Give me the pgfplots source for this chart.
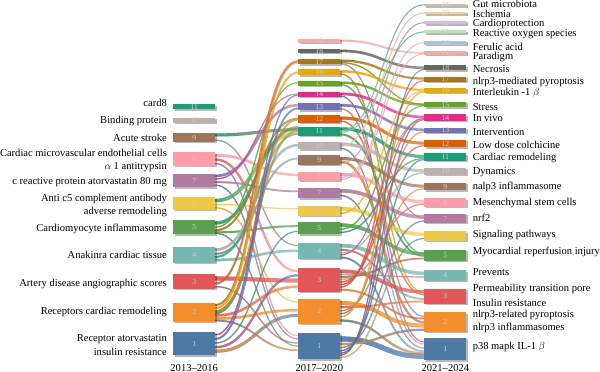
\documentclass[border=0pt]{standalone}
\usepackage{pgfplots}
\pgfplotsset{compat=1.18}
\usepackage{fontspec}
\setmainfont{Liberation Serif}
\usetikzlibrary{fadings}

\definecolor{t1}{HTML}{4E79A7}
\definecolor{t2}{HTML}{F28E2B}
\definecolor{t3}{HTML}{E15759}
\definecolor{t4}{HTML}{76B7B2}
\definecolor{t5}{HTML}{59A14F}
\definecolor{t6}{HTML}{EDC948}
\definecolor{t7}{HTML}{B07AA1}
\definecolor{t8}{HTML}{FF9DA7}
\definecolor{t9}{HTML}{9C755F}
\definecolor{t10}{HTML}{BAB0AC}
\definecolor{t11}{HTML}{1B9E77}
\definecolor{t12}{HTML}{D95F02}
\definecolor{t13}{HTML}{7570B3}
\definecolor{t14}{HTML}{E7298A}
\definecolor{t15}{HTML}{66A61E}
\definecolor{t16}{HTML}{E6AB02}
\definecolor{t17}{HTML}{A6761D}
\definecolor{t18}{HTML}{666666}
\definecolor{t19}{HTML}{F7AAA5}
\definecolor{t20}{HTML}{A9C4E0}
\definecolor{t21}{HTML}{BEE3B5}
\definecolor{t22}{HTML}{D3BCDD}
\definecolor{t23}{HTML}{FCCF90}
\definecolor{t24}{HTML}{C8BFA9}

\tikzset{
  numlab/.style={font=\fontsize{7.5}{8}\selectfont, text=white!80!black, inner sep=0pt},
  lab/.style={font=\fontsize{10.3}{12.8}\selectfont, inner sep=0pt},
}

\makeatletter
\newif\ifsk@first
\def\sk@point#1{%
  \pgf@process{#1}%
  \ifsk@first
    \edef\sk@tmp{\noexpand\pgfpathmoveto{\noexpand\pgfqpoint{\the\pgf@x}{\the\pgf@y}}}\sk@tmp
    \xdef\sk@x{\the\pgf@x}\xdef\sk@y{\the\pgf@y}%
    \global\sk@firstfalse
  \else
    \pgf@xb=\pgf@x \pgf@yb=\pgf@y
    \pgf@xa=\sk@x\relax \pgf@ya=\sk@y\relax
    \pgf@xc=0.5\pgf@xa \advance\pgf@xc by 0.5\pgf@xb
    \edef\sk@tmp{\noexpand\pgfpathcurveto{\noexpand\pgfqpoint{\the\pgf@xc}{\the\pgf@ya}}{\noexpand\pgfqpoint{\the\pgf@xc}{\the\pgf@yb}}{\noexpand\pgfqpoint{\the\pgf@xb}{\the\pgf@yb}}}\sk@tmp
    \xdef\sk@x{\the\pgf@xb}\xdef\sk@y{\the\pgf@yb}%
  \fi}
\pgfdeclareplothandler{\pgfplothandlersankey}{}{start=\global\sk@firsttrue, point macro=\sk@point, jump=\global\sk@firsttrue}
\tikzset{sankey/.code={\let\tikz@plot@handler=\pgfplothandlersankey}}
\makeatother

% flow: x0 y0 x1 y1 width colour0 colour1
\newcommand{\fl}[7]{%
  \addplot[sankey, draw=#6, line width=#5pt, draw opacity=0.68, forget plot] coordinates {(#1,#2) (#3,#4)};
  \addplot[sankey, draw=#7, line width=#5pt, draw opacity=0.78, path fading=east, forget plot] coordinates {(#1,#2) (#3,#4)};
}
% box: x0 x1 ytop ybot colour number
\newcommand{\bx}[6]{%
  \pgfmathsetmacro\xa{#1+1.3}\pgfmathsetmacro\xb{#2+1.3}%
  \pgfmathsetmacro\ya{#3+1.3}\pgfmathsetmacro\yb{#4+1.3}%
  \pgfmathsetmacro\xc{(#1+#2)/2}\pgfmathsetmacro\yc{(#3+#4)/2}%
  \edef\tmp{\noexpand\addplot[fill=black, fill opacity=0.28, draw=none, forget plot] coordinates {(\xa,\ya) (\xb,\ya) (\xb,\yb) (\xa,\yb)};}\tmp
  \addplot[fill=#5, draw=none, forget plot] coordinates {(#1,#3) (#2,#3) (#2,#4) (#1,#4)};
  \edef\tmp{\noexpand\node[numlab] at (axis cs:\xc,\yc) {#6};}\tmp
}

\begin{document}
\begin{tikzpicture}
\begin{axis}[
  width=600pt, height=373pt, scale only axis,
  xmin=0, xmax=600, ymin=0, ymax=373, y dir=reverse,
  hide axis, clip=false,
]
% ---- flows left -> middle
\fl{217}{135}{298}{130}{3}{t9}{t11}
\fl{217}{140}{298}{243}{1.2}{t9}{t4}
\fl{217}{155}{298}{174}{2.5}{t8}{t8}
\fl{217}{159}{298}{268}{2.2}{t8}{t3}
\fl{217}{163}{298}{331}{1.2}{t8}{t1}
\fl{217}{175}{298}{106}{2.5}{t7}{t13}
\fl{217}{178}{298}{95}{1.2}{t7}{t14}
\fl{217}{181}{298}{190}{1.8}{t7}{t7}
\fl{217}{184}{298}{334}{1.2}{t7}{t1}
\fl{217}{199}{298}{133}{3.5}{t6}{t11}
\fl{217}{203}{298}{207}{1.2}{t6}{t6}
\fl{217}{206}{298}{298}{1.2}{t6}{t2}
\fl{217}{221}{298}{128}{3}{t5}{t11}
\fl{217}{225}{298}{84}{1.2}{t5}{t15}
\fl{217}{228}{298}{119}{1.8}{t5}{t12}
\fl{217}{230}{298}{224}{2}{t5}{t5}
\fl{217}{231}{298}{341}{1.2}{t5}{t1}
\fl{217}{247}{298}{145}{2.5}{t4}{t10}
\fl{217}{251}{298}{158}{1.8}{t4}{t9}
\fl{217}{254}{298}{134}{1.8}{t4}{t11}
\fl{217}{257}{298}{248}{2.5}{t4}{t4}
\fl{217}{275}{298}{277}{4}{t3}{t3}
\fl{217}{280}{298}{63}{1.8}{t3}{t17}
\fl{217}{283}{298}{338}{1.2}{t3}{t1}
\fl{217}{301}{298}{64}{1.8}{t2}{t17}
\fl{217}{304}{298}{74}{1.8}{t2}{t16}
\fl{217}{307}{298}{120}{1.8}{t2}{t12}
\fl{217}{309}{298}{131}{1.8}{t2}{t11}
\fl{217}{311}{298}{283}{2.5}{t2}{t3}
\fl{217}{314}{298}{306}{2.5}{t2}{t2}
\fl{217}{316}{298}{345}{1.8}{t2}{t1}
\fl{217}{330}{298}{96}{1.2}{t1}{t14}
\fl{217}{334}{298}{109}{1.8}{t1}{t13}
\fl{217}{338}{298}{229}{1.2}{t1}{t5}
\fl{217}{342}{298}{272}{2.2}{t1}{t3}
\fl{217}{346}{298}{311}{3}{t1}{t2}
% ---- flows middle -> right
\fl{339}{43}{421}{55}{1.8}{t19}{t19}
\fl{339}{53}{421}{69.5}{2.5}{t18}{t18}
\fl{339}{62.5}{421}{80}{2.2}{t17}{t17}
\fl{339}{64.5}{421}{105}{1.2}{t17}{t15}
\fl{339}{65.5}{421}{216}{1}{t17}{t7}
\fl{339}{73}{421}{91}{2.2}{t16}{t16}
\fl{339}{75.5}{421}{289}{1.2}{t16}{t3}
\fl{339}{84}{421}{105.5}{2.2}{t15}{t15}
\fl{339}{86}{421}{251}{1.2}{t15}{t5}
\fl{339}{95}{421}{117.5}{2.5}{t14}{t14}
\fl{339}{97}{421}{337}{1}{t14}{t1}
\fl{339}{106}{421}{130}{2.5}{t13}{t13}
\fl{339}{109.5}{421}{312}{1.2}{t13}{t2}
\fl{339}{118.5}{421}{143}{3}{t12}{t12}
\fl{339}{121.5}{421}{291}{1.2}{t12}{t3}
\fl{339}{129}{421}{156}{3}{t11}{t11}
\fl{339}{131}{421}{8}{1}{t11}{t24}
\fl{339}{132.5}{421}{34.5}{1}{t11}{t21}
\fl{339}{134.5}{421}{253}{1.8}{t11}{t5}
\fl{339}{144}{421}{170}{3}{t10}{t10}
\fl{339}{146}{421}{16}{1}{t10}{t23}
\fl{339}{148}{421}{339}{1.2}{t10}{t1}
\fl{339}{158}{421}{185}{3}{t9}{t9}
\fl{339}{161}{421}{318}{2.2}{t9}{t2}
\fl{339}{163}{421}{25.5}{1}{t9}{t22}
\fl{339}{173.5}{421}{200}{3}{t8}{t8}
\fl{339}{176.5}{421}{45}{1}{t8}{t20}
\fl{339}{178.5}{421}{56}{1}{t8}{t19}
\fl{339}{189.5}{421}{215}{3.5}{t7}{t7}
\fl{339}{194}{421}{343}{1.2}{t7}{t1}
\fl{339}{207}{421}{232}{3.5}{t6}{t6}
\fl{339}{211.5}{421}{92}{1.2}{t6}{t16}
\fl{339}{223}{421}{251}{3.5}{t5}{t5}
\fl{339}{227}{421}{106.5}{1.2}{t5}{t15}
\fl{339}{230}{421}{158}{1.2}{t5}{t11}
\fl{339}{243}{421}{270}{3.5}{t4}{t4}
\fl{339}{247}{421}{295}{1.8}{t4}{t3}
\fl{339}{250}{421}{172}{1.2}{t4}{t10}
\fl{339}{252}{421}{119}{1}{t4}{t14}
\fl{339}{254.5}{421}{346}{1.8}{t4}{t1}
\fl{339}{268}{421}{288}{3.5}{t3}{t3}
\fl{339}{271}{421}{273.5}{1.2}{t3}{t4}
\fl{339}{273.5}{421}{255.5}{1.8}{t3}{t5}
\fl{339}{276}{421}{202.5}{1.2}{t3}{t8}
\fl{339}{278.5}{421}{145.5}{1.2}{t3}{t12}
\fl{339}{281}{421}{119}{1.2}{t3}{t14}
\fl{339}{283.5}{421}{82}{1.2}{t3}{t17}
\fl{339}{286}{421}{314}{1.8}{t3}{t2}
\fl{339}{299}{421}{321}{4}{t2}{t2}
\fl{339}{303}{421}{297.5}{1.8}{t2}{t3}
\fl{339}{306.5}{421}{187.5}{1.2}{t2}{t9}
\fl{339}{309.5}{421}{132}{1.2}{t2}{t13}
\fl{339}{312.5}{421}{93}{1.2}{t2}{t16}
\fl{339}{316}{421}{348}{2.2}{t2}{t1}
\fl{339}{334}{421}{351}{5}{t1}{t1}
\fl{339}{339}{421}{325}{2.2}{t1}{t2}
\fl{339}{342.5}{421}{219}{1.2}{t1}{t7}
\fl{339}{345.5}{421}{159}{1.2}{t1}{t11}
\fl{339}{348}{421}{120}{1.2}{t1}{t14}
\fl{339}{350}{421}{71}{1}{t1}{t18}
\fl{339}{352}{421}{236}{1.2}{t1}{t6}
% ---- boxes left
\bx{176}{217}{105}{110}{t11}{11}
\bx{176}{217}{118}{123}{t10}{10}
\bx{176}{217}{133}{142}{t9}{9}
\bx{176}{217}{152}{165}{t8}{8}
\bx{176}{217}{173}{186}{t7}{7}
\bx{176}{217}{196}{208}{t6}{6}
\bx{176}{217}{218}{232}{t5}{5}
\bx{176}{217}{244}{260}{t4}{4}
\bx{176}{217}{271}{285}{t3}{3}
\bx{176}{217}{299}{317}{t2}{2}
\bx{176}{217}{327}{350}{t1}{1}
% ---- boxes middle
\bx{298}{339}{41}{45}{t19}{19}
\bx{298}{339}{51}{55}{t18}{18}
\bx{298}{339}{61}{66}{t17}{17}
\bx{298}{339}{71}{77}{t16}{16}
\bx{298}{339}{82}{87}{t15}{15}
\bx{298}{339}{93}{98}{t14}{14}
\bx{298}{339}{104}{111}{t13}{13}
\bx{298}{339}{116}{123}{t12}{12}
\bx{298}{339}{127}{136}{t11}{11}
\bx{298}{339}{142}{149}{t10}{10}
\bx{298}{339}{155}{164}{t9}{9}
\bx{298}{339}{171}{180}{t8}{8}
\bx{298}{339}{187}{197}{t7}{7}
\bx{298}{339}{204}{214}{t6}{6}
\bx{298}{339}{220}{232}{t5}{5}
\bx{298}{339}{240}{256}{t4}{4}
\bx{298}{339}{265}{288}{t3}{3}
\bx{298}{339}{295}{319}{t2}{2}
\bx{298}{339}{328}{354}{t1}{1}
% ---- boxes right
\bx{421}{462}{7}{9.5}{t24}{24}
\bx{421}{462}{15}{17.5}{t23}{23}
\bx{421}{462}{24}{27}{t22}{22}
\bx{421}{462}{33}{36}{t21}{21}
\bx{421}{462}{43}{47}{t20}{20}
\bx{421}{462}{53}{57}{t19}{19}
\bx{421}{462}{67}{72}{t18}{18}
\bx{421}{462}{78}{83}{t17}{17}
\bx{421}{462}{89}{94}{t16}{16}
\bx{421}{462}{103}{108}{t15}{15}
\bx{421}{462}{115}{121}{t14}{14}
\bx{421}{462}{128}{133}{t13}{13}
\bx{421}{462}{140}{147}{t12}{12}
\bx{421}{462}{153}{160}{t11}{11}
\bx{421}{462}{167}{174}{t10}{10}
\bx{421}{462}{182}{189}{t9}{9}
\bx{421}{462}{197}{205}{t8}{8}
\bx{421}{462}{212}{221}{t7}{7}
\bx{421}{462}{229}{238}{t6}{6}
\bx{421}{462}{247}{258}{t5}{5}
\bx{421}{462}{267}{277}{t4}{4}
\bx{421}{462}{285}{300}{t3}{3}
\bx{421}{462}{308}{327}{t2}{2}
\bx{421}{462}{333}{355}{t1}{1}
% ---- left labels
\node[lab, anchor=east] at (axis cs:170,104) {card8};
\node[lab, anchor=east] at (axis cs:170,121) {Binding protein};
\node[lab, anchor=east] at (axis cs:170,138) {Acute stroke};
\node[lab, anchor=east, align=right] at (axis cs:170,159.5) {Cardiac microvascular endothelial cells\\$\alpha$ 1 antitrypsin};
\node[lab, anchor=east] at (axis cs:170,181) {c reactive protein atorvastatin 80 mg};
\node[lab, anchor=east, align=right] at (axis cs:170,204) {Anti c5 complement antibody\\adverse remodeling};
\node[lab, anchor=east] at (axis cs:170,227) {Cardiomyocyte inflammasome};
\node[lab, anchor=east] at (axis cs:170,252) {Anakinra cardiac tissue};
\node[lab, anchor=east] at (axis cs:170,280) {Artery disease angiographic scores};
\node[lab, anchor=east] at (axis cs:170,308) {Receptors cardiac remodeling};
\node[lab, anchor=east, align=right] at (axis cs:170,340) {Receptor atorvastatin\\insulin resistance};
% ---- right labels
\node[lab, anchor=west] at (axis cs:468,7) {Gut microbiota};
\node[lab, anchor=west] at (axis cs:468,16.5) {Ischemia};
\node[lab, anchor=west] at (axis cs:468,27) {Cardioprotection};
\node[lab, anchor=west] at (axis cs:468,37) {Reactive oxygen species};
\node[lab, anchor=west] at (axis cs:468,49) {Ferulic acid};
\node[lab, anchor=west] at (axis cs:468,59) {Paradigm};
\node[lab, anchor=west] at (axis cs:468,71) {Necrosis};
\node[lab, anchor=west] at (axis cs:468,83) {nlrp3-mediated pyroptosis};
\node[lab, anchor=west] at (axis cs:468,94) {Interleukin -1 $\beta$};
\node[lab, anchor=west] at (axis cs:468,108) {Stress};
\node[lab, anchor=west] at (axis cs:468,119) {In vivo};
\node[lab, anchor=west] at (axis cs:468,132) {Intervention};
\node[lab, anchor=west] at (axis cs:468,145) {Low dose colchicine};
\node[lab, anchor=west] at (axis cs:468,157) {Cardiac remodeling};
\node[lab, anchor=west] at (axis cs:468,171) {Dynamics};
\node[lab, anchor=west] at (axis cs:468,186) {nalp3 inflammasome};
\node[lab, anchor=west] at (axis cs:468,201) {Mesenchymal stem cells};
\node[lab, anchor=west] at (axis cs:468,216) {nrf2};
\node[lab, anchor=west] at (axis cs:468,233) {Signaling pathways};
\node[lab, anchor=west] at (axis cs:468,249) {Myocardial reperfusion injury};
\node[lab, anchor=west] at (axis cs:468,269) {Prevents};
\node[lab, anchor=west] at (axis cs:468,285.5) {Permeability transition pore};
\node[lab, anchor=west] at (axis cs:468,298.5) {Insulin resistance};
\node[lab, anchor=west] at (axis cs:468,311) {nlrp3-related pyroptosis};
\node[lab, anchor=west] at (axis cs:468,323) {nlrp3 inflammasomes};
\node[lab, anchor=west] at (axis cs:468,342) {p38 mapk IL-1 $\beta$};
% ---- period labels
\node[lab] at (axis cs:196.5,362.5) {2013--2016};
\node[lab] at (axis cs:318.5,362.5) {2017--2020};
\node[lab] at (axis cs:441.5,362.5) {2021--2024};
\end{axis}
\end{tikzpicture}
\end{document}
